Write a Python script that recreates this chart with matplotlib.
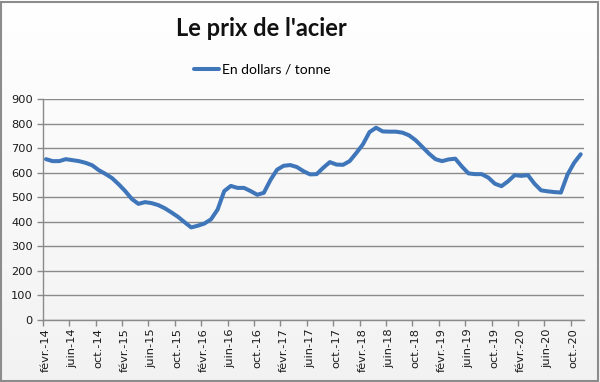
import matplotlib
matplotlib.use("Agg")
import matplotlib.pyplot as plt
import matplotlib.transforms as mtransforms
import numpy as np
from matplotlib.patches import Rectangle

# Monthly steel price, Feb-2014 .. Nov-2020 (USD / tonne)
prices = [655, 647, 647, 655, 651, 647, 640, 630, 610, 595, 578, 553,
          525, 493, 473, 480, 476, 468, 455, 438, 420, 398, 377, 384,
          393, 410, 450, 525, 546, 538, 538, 525, 510, 518, 570, 612,
          628, 631, 623, 606, 593, 594, 620, 643, 633, 632, 647, 680,
          715, 765, 783, 768, 767, 767, 763, 752, 732, 705, 678, 655,
          647, 654, 657, 625, 597, 594, 594, 580, 555, 545, 565, 590,
          587, 590, 555, 528, 524, 521, 519, 592, 640, 675]

tick_labels = ["févr.-14", "juin-14", "oct.-14", "févr.-15", "juin-15", "oct.-15",
               "févr.-16", "juin-16", "oct.-16", "févr.-17", "juin-17", "oct.-17",
               "févr.-18", "juin-18", "oct.-18", "févr.-19", "juin-19", "oct.-19",
               "févr.-20", "juin-20", "oct.-20"]
y_ticks = [0, 100, 200, 300, 400, 500, 600, 700, 800, 900]

title = "Le prix de l'acier"
series_name = "En dollars / tonne"

fig = plt.figure(figsize=(6.0, 3.82), dpi=100)
fig.patch.set_facecolor("white")

# subtle vertical gradient background (white -> light grey)
bg = fig.add_axes([0, 0, 1, 1], zorder=-10)
grad = np.linspace(1.0, 0.95, 256).reshape(-1, 1)
bg.imshow(np.dstack([grad, grad, grad]), aspect="auto", extent=[0, 1, 0, 1])
bg.set_axis_off()

ax = fig.add_axes([42.7 / 600, (382 - 320) / 382, (584 - 42.7) / 600, (320 - 99) / 382])
ax.set_facecolor("none")

xs = [i + 0.5 for i in range(len(prices))]
line, = ax.plot(xs, prices, color="#3F76BA", linewidth=2.9, solid_capstyle="round",
                solid_joinstyle="round", zorder=3)

ax.set_xlim(0, 82)
ax.set_ylim(0, 900)
ax.set_yticks(y_ticks)
ax.set_yticklabels([str(v) for v in y_ticks])
ax.set_xticks(range(0, 4 * len(tick_labels), 4))
ax.set_xticklabels(tick_labels, rotation=90)

ax.grid(axis="y", color="#8A8A8A", linewidth=1.0, zorder=1)
for s in ["top", "right"]:
    ax.spines[s].set_visible(False)
for s in ["left", "bottom"]:
    ax.spines[s].set_color("#8A8A8A")
    ax.spines[s].set_linewidth(1.0)
ax.tick_params(axis="both", colors="#8A8A8A", length=4, width=1.0, labelsize=8.2,
               labelcolor="#1A1A1A")
ax.tick_params(axis="x", pad=2)
ax.tick_params(axis="y", pad=3)
shift = mtransforms.ScaledTranslation(3 / 100, 0, fig.dpi_scale_trans)
for lbl in ax.get_xticklabels():
    lbl.set_family("DejaVu Sans")
    lbl.set_transform(lbl.get_transform() + shift)
for lbl in ax.get_yticklabels():
    lbl.set_family("DejaVu Sans")

fig.text(0.435, 1 - 29 / 382, title, ha="center", va="center",
         fontsize=17, fontweight="bold", family="Lato", color="#111111")

leg = fig.legend([line], [series_name], loc="center", bbox_to_anchor=(0.437, 1 - 70 / 382),
                 frameon=False, handlelength=1.8, handletextpad=0.2,
                 prop={"family": "Lato", "size": 10})

fig.add_artist(Rectangle((0.002, 0.003), 0.995, 0.993, transform=fig.transFigure,
                         fill=False, edgecolor="#8C8C8C", linewidth=1.5))

fig.savefig("out.png", dpi=100, facecolor="white")
